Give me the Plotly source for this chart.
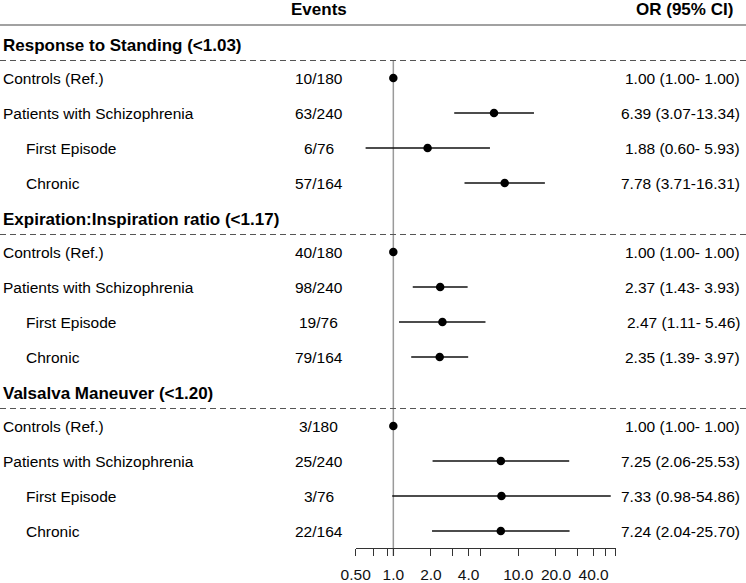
import math
import plotly.graph_objects as go

# ---------------- data ----------------
group_titles = [
    "Response to Standing (<1.03)",
    "Expiration:Inspiration ratio (<1.17)",
    "Valsalva Maneuver (<1.20)",
]
row_labels = ["Controls (Ref.)", "Patients with Schizophrenia", "First Episode", "Chronic"]
row_indent = [False, False, True, True]

events_standing = ["10/180", "63/240", "6/76", "57/164"]
events_ei = ["40/180", "98/240", "19/76", "79/164"]
events_valsalva = ["3/180", "25/240", "3/76", "22/164"]

or_standing = [1.00, 6.39, 1.88, 7.78]
lo_standing = [1.00, 3.07, 0.60, 3.71]
hi_standing = [1.00, 13.34, 5.93, 16.31]

or_ei = [1.00, 2.37, 2.47, 2.35]
lo_ei = [1.00, 1.43, 1.11, 1.39]
hi_ei = [1.00, 3.93, 5.46, 3.97]

or_valsalva = [1.00, 7.25, 7.33, 7.24]
lo_valsalva = [1.00, 2.06, 0.98, 2.04]
hi_valsalva = [1.00, 25.53, 54.86, 25.70]

tick_values = [0.5, 0.7, 0.9, 1.0, 2.0, 3.0, 4.0, 5.0, 10.0, 20.0, 30.0, 40.0, 50.0, 60.0]
tick_labels = ["0.50", "", "", "1.0", "2.0", "", "4.0", "", "10.0", "20.0", "", "40.0", "", ""]

events_all = [events_standing, events_ei, events_valsalva]
or_all = [or_standing, or_ei, or_valsalva]
lo_all = [lo_standing, lo_ei, lo_valsalva]
hi_all = [hi_standing, hi_ei, hi_valsalva]

# ---------------- layout geometry (pixel units on y) ----------------
W, H = 746, 583
FONT = "Arial, Liberation Sans, sans-serif"
TXT = 15.5
HDR = 17

fig = go.Figure()
annotations = []
shapes = []

ci_x, ci_y, pt_x, pt_y = [], [], [], []

for g in range(3):
    head_y = 45 + g * 174
    dash_y = head_y + 15.5
    annotations.append(dict(x=1 / W, xref="paper", y=head_y, yref="y", text=group_titles[g],
                            xanchor="left", yanchor="middle", showarrow=False,
                            font=dict(family=FONT, size=HDR, color="black", weight="bold")))
    shapes.append(dict(type="line", xref="paper", yref="y", x0=0, x1=1, y0=dash_y, y1=dash_y,
                       line=dict(color="#555555", width=1.2, dash="6px,4px")))
    for i in range(4):
        ry = head_y + 33 + i * 35
        annotations.append(dict(x=(24 if row_indent[i] else 1) / W, xref="paper", y=ry, yref="y",
                                text=row_labels[i], xanchor="left", yanchor="middle", showarrow=False,
                                font=dict(family=FONT, size=TXT, color="black")))
        annotations.append(dict(x=318.5 / W, xref="paper", y=ry, yref="y",
                                text=events_all[g][i], xanchor="center", yanchor="middle", showarrow=False,
                                font=dict(family=FONT, size=TXT, color="black")))
        o, lo, hi = or_all[g][i], lo_all[g][i], hi_all[g][i]
        hi_s = f"{hi:.2f}"
        if len(hi_s) < 5:
            hi_s = " " + hi_s
        annotations.append(dict(x=742 / W, xref="paper", y=ry, yref="y",
                                text=f"{o:.2f} ({lo:.2f}-{hi_s})", xanchor="right", yanchor="middle",
                                showarrow=False, font=dict(family=FONT, size=TXT, color="black")))
        ci_x += [lo, hi, None]
        ci_y += [ry, ry, None]
        pt_x.append(o)
        pt_y.append(ry)

# column headers
annotations.append(dict(x=319 / W, xref="paper", y=9, yref="y", text="Events", xanchor="center",
                        yanchor="middle", showarrow=False,
                        font=dict(family=FONT, size=HDR, color="black", weight="bold")))
annotations.append(dict(x=735 / W, xref="paper", y=9, yref="y", text="OR (95% CI)", xanchor="right",
                        yanchor="middle", showarrow=False,
                        font=dict(family=FONT, size=HDR, color="black", weight="bold")))
shapes.append(dict(type="line", xref="paper", yref="y", x0=0, x1=1, y0=25, y1=25,
                   line=dict(color="#444444", width=1.2)))

# reference line at OR = 1
shapes.append(dict(type="line", xref="x", yref="y", x0=1, x1=1, y0=60, y1=556, layer="below",
                   line=dict(color="#9a9a9a", width=1.5)))

fig.add_trace(go.Scatter(x=ci_x, y=ci_y, mode="lines", line=dict(color="#111111", width=1.3),
                         hoverinfo="skip", showlegend=False, cliponaxis=False))
fig.add_trace(go.Scatter(x=pt_x, y=pt_y, mode="markers", marker=dict(color="black", size=8.5),
                         showlegend=False, cliponaxis=False))

x0_px, x1_px = 355.7, 615.6
fig.update_layout(
    template="none",
    width=W, height=H,
    autosize=False,
    margin=dict(l=0, r=0, t=0, b=0, pad=0, autoexpand=False),
    paper_bgcolor="white", plot_bgcolor="white",
    font=dict(family=FONT, color="black"),
    xaxis=dict(type="log", range=[math.log10(0.5), math.log10(60)],
               domain=[x0_px / W, x1_px / W], anchor="free", position=(H - 548) / H,
               automargin=False,
               tickmode="array", tickvals=tick_values, ticktext=tick_labels,
               ticks="outside", ticklen=7, tickwidth=1, tickcolor="#333333",
               ticklabelstandoff=5,
               showline=True, linecolor="#333333", linewidth=1,
               showgrid=False, zeroline=False,
               tickfont=dict(family=FONT, size=TXT, color="#111111")),
    yaxis=dict(range=[H, 0], domain=[0, 1], visible=False, showgrid=False, zeroline=False,
               automargin=False),
    annotations=annotations,
    shapes=shapes,
    showlegend=False,
)

fig.write_html("out.html",
               config={"displayModeBar": False},
               post_script="document.body.style.margin='0';document.body.style.padding='0';")
